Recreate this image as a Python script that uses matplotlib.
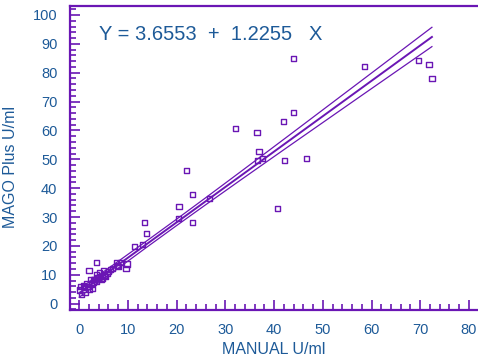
import matplotlib
matplotlib.use("Agg")
import matplotlib.pyplot as plt
import numpy as np
from matplotlib.ticker import MultipleLocator

plt.rcParams['font.family'] = ['Liberation Sans', 'DejaVu Sans']

# values
manual = [44.0, 58.6, 69.6, 71.8, 72.4, 44.0, 41.9, 36.5, 36.9, 36.6, 37.7, 42.1, 46.6, 40.7,
          32.1, 22.0, 23.2, 20.5, 26.8, 20.3, 13.4, 23.2, 13.8, 11.3, 13.0,
          3.5, 7.7, 8.5, 9.8, 9.6, 7.8, 6.9, 2.0, 5.0, 4.1, 3.5, 5.1, 2.3, 2.9, 3.2,
          4.5, 3.7, 1.5, 0.8, 2.5, 2.8, 2.0, 1.2, 0.4, 0.0, 0.3, 4.3, 4.8, 3.5, 5.4,
          6.0, 6.5, 8.0, 1.0, 1.8, 2.6, 3.0, 5.8, 4.0]
mago = [85.0, 82.2, 84.3, 82.9, 78.1, 66.3, 63.2, 59.3, 52.8, 49.6, 50.3, 49.6, 50.3, 33.0,
        60.7, 46.2, 37.8, 33.7, 36.5, 29.5, 28.1, 28.1, 24.3, 19.8, 20.5,
        14.3, 14.3, 14.3, 13.7, 12.2, 13.3, 12.2, 11.5, 11.4, 10.7, 10.2, 9.9, 8.4, 8.3, 8.4,
        8.3, 8.9, 7.0, 6.4, 7.0, 5.3, 5.0, 4.0, 3.2, 4.7, 5.8, 9.5, 8.9, 7.7, 9.4,
        11.0, 11.8, 13.0, 5.5, 6.0, 6.8, 7.5, 10.5, 9.0]
intercept = 3.6553
slope = 1.2255

x = np.array(manual)
y = np.array(mago)

# regression line and confidence band from the points
xs = np.linspace(x.min(), x.max(), 200)
fit = intercept + slope * xs
n = len(x)
resid = y - (intercept + slope * x)
s = np.sqrt(np.sum(resid ** 2) / (n - 2))
sxx = np.sum((x - x.mean()) ** 2)
half = 1.3 * s * np.sqrt(1.0 / n + (xs - x.mean()) ** 2 / sxx)

purple = '#6a16b4'
blue = '#1d5a98'

fig = plt.figure(figsize=(4.78, 3.64), dpi=100)
ax = fig.add_axes([0.1464, 0.148, 0.853, 0.8355])

ax.plot(xs, fit, color=purple, lw=1.4)
ax.plot(xs, fit + half, color=purple, lw=0.9)
ax.plot(xs, fit - half, color=purple, lw=0.9)
ax.scatter(x, y, marker='s', s=14, facecolors='none', edgecolors=purple, linewidths=1.0, zorder=3)

ax.set_xlim(-1.9, 81.8)
ax.set_ylim(-2.25, 103.1)
ax.xaxis.set_major_locator(MultipleLocator(10))
ax.xaxis.set_minor_locator(MultipleLocator(2))
ax.yaxis.set_major_locator(MultipleLocator(10))
ax.yaxis.set_minor_locator(MultipleLocator(2))
ax.tick_params(which='both', direction='in', color=purple, width=1.2,
               labelcolor=blue, labelsize=10.5, pad=9, top=False, right=False)
ax.tick_params(which='major', length=7)
ax.tick_params(which='minor', length=4)

for side in ['left', 'bottom', 'top']:
    ax.spines[side].set_color(purple)
    ax.spines[side].set_linewidth(1.6)
ax.spines['right'].set_visible(False)

ax.set_xlabel('MANUAL U/ml', color=blue, fontsize=11.5, labelpad=4)
ax.set_ylabel('MAGO Plus U/ml', color=blue, fontsize=11.5)
ax.yaxis.set_label_coords(-0.128, 0.47)

ax.text(0.07, 0.905, 'Y = 3.6553  +  1.2255   X', transform=ax.transAxes,
        color=blue, fontsize=14.5, va='center', ha='left')

fig.savefig('out.png', dpi=100)
